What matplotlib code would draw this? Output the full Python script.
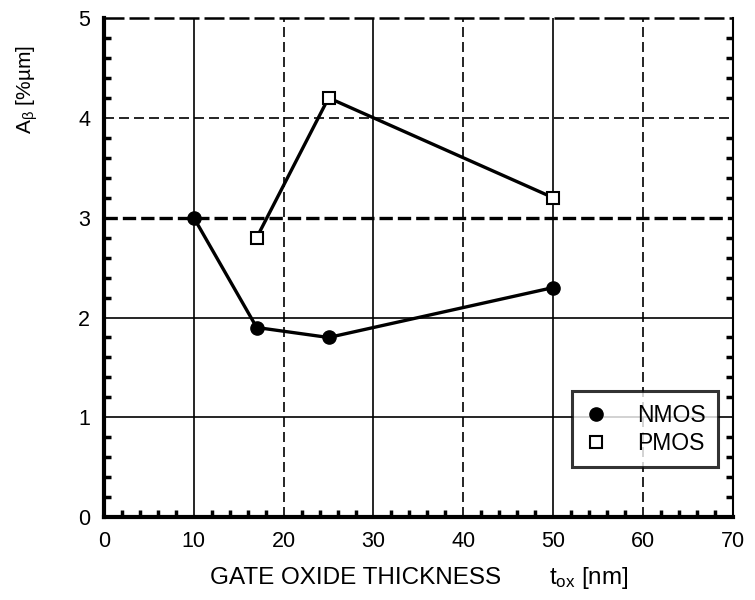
import matplotlib
matplotlib.use("Agg")
import matplotlib.pyplot as plt
import numpy as np

plt.rcParams['font.family'] = ['Liberation Sans', 'DejaVu Sans']
plt.rcParams['mathtext.fontset'] = 'custom'
plt.rcParams['mathtext.rm'] = 'Liberation Sans'
plt.rcParams['mathtext.it'] = 'Liberation Sans'

# data
nmos_tox = [10, 17, 25, 50]
nmos_a = [3.0, 1.9, 1.8, 2.3]
pmos_tox = [17, 25, 50]
pmos_a = [2.8, 4.2, 3.2]

x_ticks = [0, 10, 20, 30, 40, 50, 60, 70]
y_ticks = [0, 1, 2, 3, 4, 5]

fig = plt.figure(figsize=(7.55, 6.0), dpi=100)
ax = fig.add_axes([0.1377, 0.138, 0.833, 0.832])
ax.set_xlim(0, 70)
ax.set_ylim(0, 5)

# grid: solid at odd tens, dashed at even tens
for xv in [10, 30, 50]:
    ax.axvline(xv, color='black', lw=1.2, zorder=1)
for xv in [20, 40, 60]:
    ax.axvline(xv, color='black', lw=1.2, ls=(0, (6, 3)), zorder=1)
for yv in [1, 2]:
    ax.axhline(yv, color='black', lw=1.2, zorder=1)
ax.axhline(3, color='black', lw=2.4, ls=(0, (4, 1.5)), zorder=1)
ax.axhline(4, color='black', lw=1.2, ls=(0, (6, 3)), zorder=1)
ax.axhline(5, color='black', lw=1.8, ls=(0, (8, 2)), zorder=1, clip_on=False)

ax.plot(nmos_tox, nmos_a, color='black', lw=2.4, marker='o', ms=9.5,
        mfc='black', mec='black', label='NMOS', zorder=3)
ax.plot(pmos_tox, pmos_a, color='black', lw=2.4, marker='s', ms=9,
        mfc='white', mec='black', mew=1.5, label='PMOS', zorder=3)

ax.spines['top'].set_visible(False)
ax.spines['left'].set_linewidth(3)
ax.spines['bottom'].set_linewidth(3)
ax.spines['right'].set_linewidth(1.5)

ax.set_xticks(x_ticks)
ax.set_yticks(y_ticks)
ax.set_xticks(np.arange(0, 70, 2), minor=True)
ax.set_yticks(np.arange(0, 5, 0.2), minor=True)
ax.tick_params(which='major', direction='in', length=0, labelsize=15.5, pad=10)
ax.tick_params(which='minor', direction='in', length=5, width=2.5,
               right=True, left=True, bottom=True)

leg = ax.legend(loc='lower right', bbox_to_anchor=(0.977, 0.1), fontsize=16.5,
                frameon=True, fancybox=False, handlelength=1.0,
                handletextpad=1.3, borderpad=0.55, labelspacing=0.2,
                borderaxespad=0.0)
leg.get_frame().set_edgecolor('black')
leg.get_frame().set_linewidth(2.2)
for h in leg.legend_handles:
    h.set_linestyle('none')

fig.text(0.278, 0.037, 'GATE OXIDE THICKNESS', ha='left', va='center',
         fontsize=17.5)
fig.text(0.727, 0.037, r'$t_{\mathrm{ox}}$ [nm]', ha='left', va='center',
         fontsize=17.5)
fig.text(0.036, 0.85, r'A$_{\beta}$ [%µm]', rotation=90,
         ha='center', va='center', fontsize=15)

fig.savefig('out.png', dpi=100)
